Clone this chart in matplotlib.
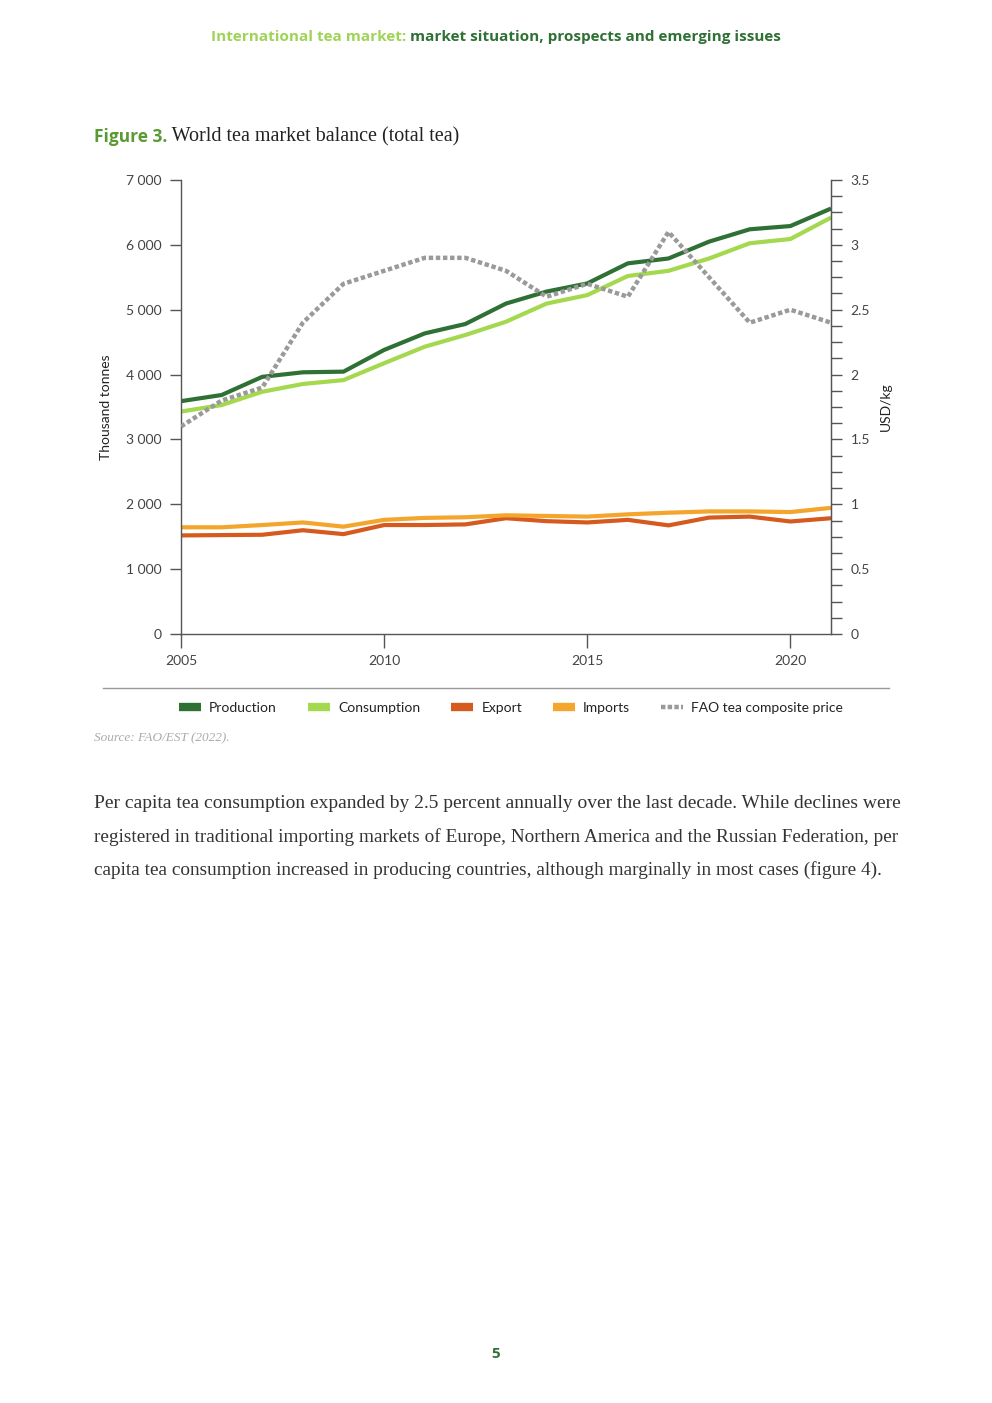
import numpy as np
import matplotlib.pyplot as plt
from matplotlib.lines import Line2D
from matplotlib.ticker import FuncFormatter, MultipleLocator

# ── data ─────────────────────────────────────────────────────────────────────
years = list(range(2005, 2022))
production = [3590, 3685, 3965, 4035, 4045, 4380, 4635, 4780, 5095, 5280,
              5405, 5715, 5790, 6050, 6240, 6290, 6560]
consumption = [3430, 3530, 3735, 3855, 3915, 4175, 4430, 4610, 4815, 5095,
               5225, 5520, 5600, 5790, 6025, 6090, 6420]
export = [1520, 1525, 1530, 1600, 1540, 1680, 1680, 1690, 1785, 1740,
          1720, 1760, 1675, 1795, 1810, 1735, 1785]
imports = [1645, 1645, 1680, 1720, 1655, 1760, 1790, 1800, 1830, 1820,
           1810, 1845, 1870, 1890, 1890, 1880, 1945]
price = [1.60, 1.80, 1.90, 2.40, 2.70, 2.80, 2.90, 2.90, 2.80, 2.60,
         2.70, 2.60, 3.10, 2.75, 2.40, 2.50, 2.40]

series_names = ['Production', 'Consumption', 'Export', 'Imports']
series_colors = ['#2f7034', '#a4d84e', '#d65a1e', '#f4a52b']
price_name = 'FAO tea composite price'
price_color = '#9a9a9a'

header_a = 'International tea market:'
header_b = ' market situation, prospects and emerging issues'
fig_no = 'Figure 3.'
fig_title = ' World tea market balance (total tea)'
source = 'Source: FAO/EST (2022).'
body = [
    'Per capita tea consumption expanded by 2.5 percent annually over the last decade. While declines were',
    'registered in traditional importing markets of Europe, Northern America and the Russian Federation, per',
    'capita tea consumption increased in producing countries, although marginally in most cases (figure 4).',
]
body_right = [897, 897, 880]   # right edge of each body line in the reference (px)

W, H = 992, 1403
sans = 'Lato'
serif = 'Liberation Serif'
axis_col = '#555555'
txt_col = '#444444'

fig = plt.figure(figsize=(W / 100, H / 100), dpi=100)
fig.patch.set_facecolor('white')


def fx(px):
    return px / W


def fy(py):
    return 1 - py / H


def text_width(t):
    fig.canvas.draw()
    return t.get_window_extent().width


# ── main axes ────────────────────────────────────────────────────────────────
ax = fig.add_axes([fx(181), fy(634), fx(831) - fx(181), fy(180) - fy(634)])
lw = 3.0
for name, vals, col in zip(series_names, [production, consumption, export, imports], series_colors):
    ax.plot(years, vals, color=col, lw=lw, solid_capstyle='butt', label=name)

ax.set_xlim(2005, 2021)
ax.set_ylim(0, 7000)
ax.yaxis.set_major_locator(MultipleLocator(1000))
ax.yaxis.set_major_formatter(FuncFormatter(lambda v, p: f'{int(v):,}'.replace(',', ' ')))
ax.set_xticks([2005, 2010, 2015, 2020])
ax.tick_params(axis='y', direction='out', length=8, width=1, color=axis_col,
               labelsize=10, labelcolor=txt_col, pad=6)
ax.tick_params(axis='x', direction='out', length=10, width=1, color=axis_col,
               labelsize=10, labelcolor=txt_col, pad=5)
for lab in ax.get_xticklabels() + ax.get_yticklabels():
    lab.set_fontfamily(sans)
ax.spines['top'].set_visible(False)
for s in ('left', 'bottom', 'right'):
    ax.spines[s].set_color(axis_col)
    ax.spines[s].set_linewidth(1)
ax.set_ylabel('Thousand tonnes', fontsize=10, color='#222222', family=sans, labelpad=10)

# ── price on the right axis ─────────────────────────────────────────────────
ax2 = ax.twinx()
ax2.plot(years, price, color=price_color, lw=3.2, linestyle=(0, (1, 0.6)),
         dash_capstyle='butt', label=price_name)
ax2.set_ylim(0, 3.5)
ax2.yaxis.set_major_locator(MultipleLocator(0.5))
ax2.yaxis.set_minor_locator(MultipleLocator(0.125))
ax2.yaxis.set_major_formatter(FuncFormatter(lambda v, p: f'{v:g}'))
ax2.tick_params(axis='y', which='major', direction='out', length=8, width=1,
                color=axis_col, labelsize=10, labelcolor=txt_col, pad=6)
ax2.tick_params(axis='y', which='minor', direction='out', length=8, width=1, color=axis_col)
for lab in ax2.get_yticklabels():
    lab.set_fontfamily(sans)
for s in ('top', 'left', 'bottom'):
    ax2.spines[s].set_visible(False)
ax2.spines['right'].set_color(axis_col)
ax2.set_ylabel('USD/kg', fontsize=10, color='#222222', family=sans, labelpad=7)

# ── page header (two colours, fitted to 211..780 px) ────────────────────────
hdr_fs = 10.5
ta = fig.text(fx(211), fy(37), header_a, color='#9fd356', fontsize=hdr_fs,
              fontweight='bold', family='Open Sans', va='center', ha='left')
tb = fig.text(0, fy(37), header_b, color='#2f7034', fontsize=hdr_fs,
              fontweight='bold', family='Open Sans', va='center', ha='left')
total = text_width(ta) + text_width(tb)
hdr_fs *= (780 - 211) / total
ta.set_fontsize(hdr_fs)
tb.set_fontsize(hdr_fs)
tb.set_x(fx(211 + text_width(ta)))

# ── figure title ────────────────────────────────────────────────────────────
t = fig.text(fx(94), fy(137), fig_no, color='#5a9a35', fontsize=12.5,
             fontweight='bold', family='Open Sans', va='center', ha='left')
w = text_width(t)
fig.text(fx(94 + w), fy(137), fig_title, color='#222222', fontsize=14.5,
         family=serif, va='center', ha='left')

# separator line above legend
fig.add_artist(Line2D([fx(103), fx(889)], [fy(688), fy(688)], color='#999999', lw=1))

handles = [Line2D([0], [0], color=c, lw=6, solid_capstyle='butt') for c in series_colors]
handles.append(Line2D([0], [0], color=price_color, lw=3.2, linestyle=(0, (1, 0.5)),
                      dash_capstyle='butt'))
leg = fig.legend(handles, series_names + [price_name], loc='center',
                 bbox_to_anchor=(fx(511), fy(708)), ncol=5, frameon=False,
                 handlelength=1.6, handletextpad=0.6, columnspacing=2.2,
                 prop={'family': sans, 'size': 10})
for txt in leg.get_texts():
    txt.set_color('#222222')

fig.text(fx(94), fy(738), source, color='#aaaaaa', fontsize=9.5, style='italic',
         family=serif, va='center', ha='left')

# ── body text, each line fitted to the reference width ─────────────────────
for i, (line, right) in enumerate(zip(body, body_right)):
    bt = fig.text(fx(94), fy(804 + 33 * i), line, color='#333333', fontsize=13,
                  family=serif, va='center', ha='left')
    bt.set_fontsize(13 * (right - 94) / text_width(bt))

fig.text(0.5, fy(1354), '5', color='#2f7034', fontsize=11, fontweight='bold',
         family='Open Sans', va='center', ha='center')

fig.savefig('out.png', dpi=100)
